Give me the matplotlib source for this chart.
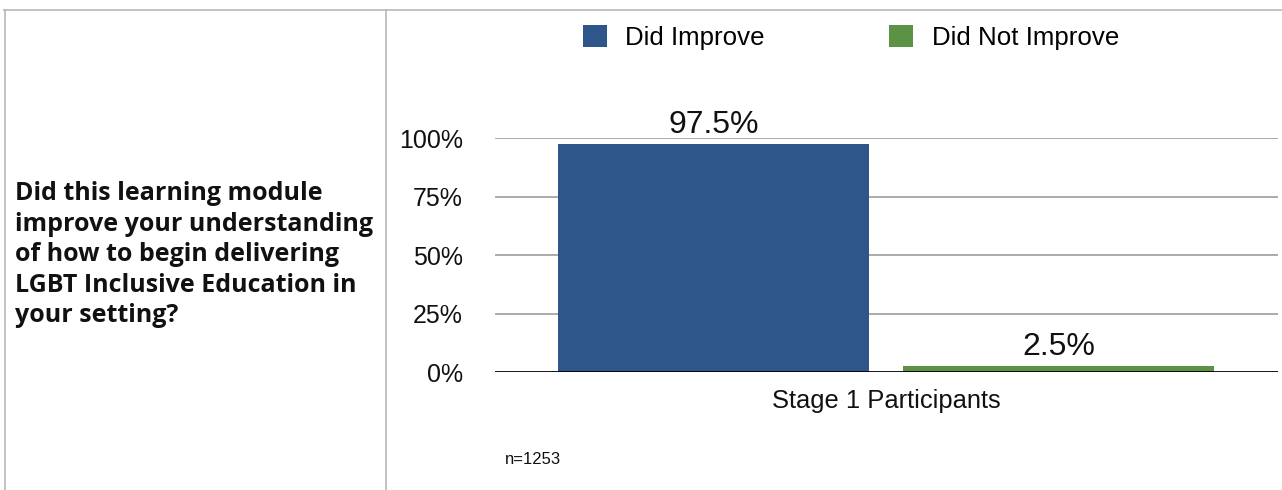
import matplotlib.pyplot as plt
from matplotlib.lines import Line2D

# data
question_lines = [
    "Did this learning module",
    "improve your understanding",
    "of how to begin delivering",
    "LGBT Inclusive Education in",
    "your setting?",
]
group = "Stage 1 Participants"
series = ["Did Improve", "Did Not Improve"]
values = [97.5, 2.5]
colors = ["#2E5688", "#5B9246"]
yticks = [0, 25, 50, 75, 100]
sample_note = "n=1253"

W, H = 1282, 490
fig = plt.figure(figsize=(W / 100, H / 100), dpi=100)


def fx(px):
    return px / W


def fy(py):
    return 1 - py / H


# table borders
border = "#b8b8b8"
for xs, ys in [((4, W), (10.5, 10.5)), ((4.5, 4.5), (10, H)), ((385.5, 385.5), (10, H))]:
    fig.add_artist(Line2D([fx(x) for x in xs], [fy(y) for y in ys],
                          color=border, lw=1.2))

# question cell
for i, line in enumerate(question_lines):
    fig.text(fx(15), fy(200 + i * 30.6), line, fontsize=18, fontweight="bold",
             family="Open Sans", va="baseline", ha="left", color="#111111")

# chart
ax = fig.add_axes([fx(495), fy(372), fx(1278) - fx(495), fy(138) - fy(372)])
ax.set_xlim(-0.5, 0.5)
ax.set_ylim(0, 100)

width = 0.397
offsets = [-0.2205, 0.2195]
bars = []
for name, val, col, off in zip(series, values, colors, offsets):
    b = ax.bar(off, val, width=width, color=col, label=name, zorder=3)
    bars.append(b)
    ax.annotate(f"{val}%", (off, val), xytext=(0, 8), textcoords="offset points",
                ha="center", va="baseline", fontsize=23,
                family="Liberation Sans", color="#111111", annotation_clip=False)

for t in yticks[1:]:
    ax.axhline(t, color="#ababab", lw=1.4, zorder=1)
ax.axhline(0, color="black", lw=2.0, zorder=4)

for s in ax.spines.values():
    s.set_visible(False)

ax.set_yticks(yticks)
ax.set_yticklabels([f"{t}%" for t in yticks], family="Liberation Sans",
                   fontsize=18, color="#111111")
ax.set_xticks([0])
ax.set_xticklabels([group], family="Liberation Sans", fontsize=18.4, color="#111111")
ax.tick_params(axis="y", length=0, pad=23)
ax.tick_params(axis="x", length=0, pad=12)

fig.legend(handles=[b[0] for b in bars], labels=series, loc="upper left",
           bbox_to_anchor=(fx(575), fy(17)), ncol=2, frameon=False,
           prop={"family": "Liberation Sans", "size": 18.6},
           handlelength=0.95, handleheight=0.95, handletextpad=0.7,
           columnspacing=4.8, borderaxespad=0, borderpad=0.3)

fig.text(fx(505), fy(464), sample_note, fontsize=12, family="Liberation Sans",
         va="baseline", ha="left", color="#111111")

fig.savefig("out.png", dpi=100, facecolor="white")
